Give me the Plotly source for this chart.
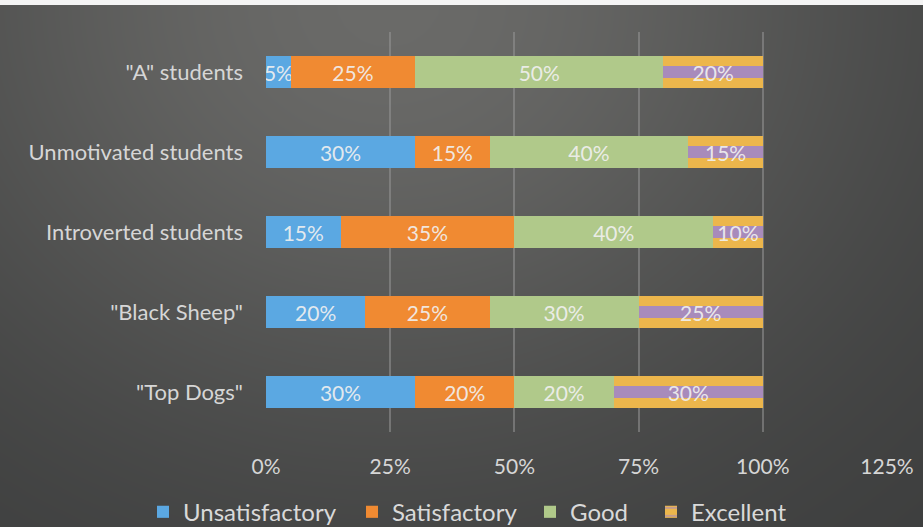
import numpy as np
import plotly.graph_objects as go

# Student groups and the share of each rating
groups = ['"A" students', 'Unmotivated students', 'Introverted students',
          '"Black Sheep"', '"Top Dogs"']
unsatisfactory = [0.05, 0.30, 0.15, 0.20, 0.30]
satisfactory = [0.25, 0.15, 0.35, 0.25, 0.20]
good = [0.50, 0.40, 0.40, 0.30, 0.20]
excellent = [0.20, 0.15, 0.10, 0.25, 0.30]
x_ticks = [0, 0.25, 0.5, 0.75, 1.0, 1.25]

W, H = 923, 527
FONT = "Lato, 'Open Sans', sans-serif"

fig = go.Figure()

# Soft dark-gray backdrop spread over the whole page (lighter near top centre)
gx = np.linspace(0, 1, 60)
gy = np.linspace(0, 1, 40)
U, V = np.meshgrid(gx, gy)
glow = np.exp(-((U - 0.42) / 0.55) ** 2 - ((1 - V) / 0.85) ** 2)
fig.add_trace(go.Heatmap(
    x=gx, y=gy, z=glow, zsmooth="best", showscale=False, hoverinfo="skip",
    colorscale=[[0, "#3a3b3b"], [1, "#6a6a68"]], zmin=0, zmax=1,
    xaxis="x", yaxis="y", showlegend=False,
))

series = [
    ("Unsatisfactory", unsatisfactory, 164, dict(color="#5ba8e2")),
    ("Satisfactory", satisfactory, 133, dict(color="#f08a32")),
    ("Good", good, 76, dict(color="#b0c98a")),
    ("Excellent", excellent, 100, dict(
        color="#ecb64c",
        pattern=dict(shape="-", fgcolor="#a88bbb", bgcolor="#ecb64c",
                     fgopacity=1, size=80, solidity=0.15, fillmode="replace"),
    )),
]

for name, vals, lw, marker in series:
    fig.add_trace(go.Bar(
        name=name, y=groups, x=vals, orientation="h",
        marker=dict(line=dict(width=0), **marker),
        texttemplate="%{x:.0%}", textposition="inside", textangle=0,
        insidetextanchor="middle", constraintext="none",
        textfont=dict(family=FONT, size=21, color="rgba(240,240,240,0.92)"),
        xaxis="x2", yaxis="y2", hoverinfo="skip", legendwidth=lw,
    ))

x0, x1 = 266 / W, 887 / W
y0, y1 = 1 - 432 / H, 1 - 32 / H

fig.update_layout(
    width=W, height=H,
    margin=dict(l=0, r=0, t=0, b=0, autoexpand=False),
    paper_bgcolor="#474848",
    plot_bgcolor="rgba(0,0,0,0)",
    barmode="stack",
    bargap=0.59,
    font=dict(family=FONT, color="#d6d6d6"),
    xaxis=dict(domain=[0, 1], range=[0, 1], visible=False, fixedrange=True),
    yaxis=dict(domain=[0, 1], range=[0, 1], visible=False, fixedrange=True),
    xaxis2=dict(
        domain=[x0, x1], range=[0, 1.25], anchor="y2", automargin=False,
        tickvals=x_ticks, tickformat=".0%",
        showgrid=True, gridcolor="rgba(150,150,150,0.55)", gridwidth=1.5,
        zeroline=False, showline=False,
        tickfont=dict(size=21, color="#d6d6d6"),
        ticklabelstandoff=20,
    ),
    yaxis2=dict(
        domain=[y0, y1], anchor="x2", automargin=False,
        categoryorder="array", categoryarray=groups[::-1],
        showgrid=False, zeroline=False, showline=False,
        tickfont=dict(size=22, color="#d6d6d6"),
        ticklabelstandoff=22,
    ),
    legend=dict(
        orientation="h", x=143 / W, xanchor="left", y=0.028, yanchor="middle",
        font=dict(size=24, color="#d9d9d9"), traceorder="normal",
        bgcolor="rgba(0,0,0,0)", itemwidth=30,
    ),
    shapes=[
        # axis line at 0%
        dict(type="line", xref="x2", yref="paper", x0=0, x1=0, y0=y0, y1=y1,
             line=dict(color="rgba(185,185,185,0.8)", width=2), layer="below"),
        # thin light strip along the top edge
        dict(type="rect", xref="paper", yref="paper", x0=0, x1=1,
             y0=1 - 5 / H, y1=1, fillcolor="#f4f4f4", line=dict(width=0)),
    ],
)

fig.write_html("out.html")
